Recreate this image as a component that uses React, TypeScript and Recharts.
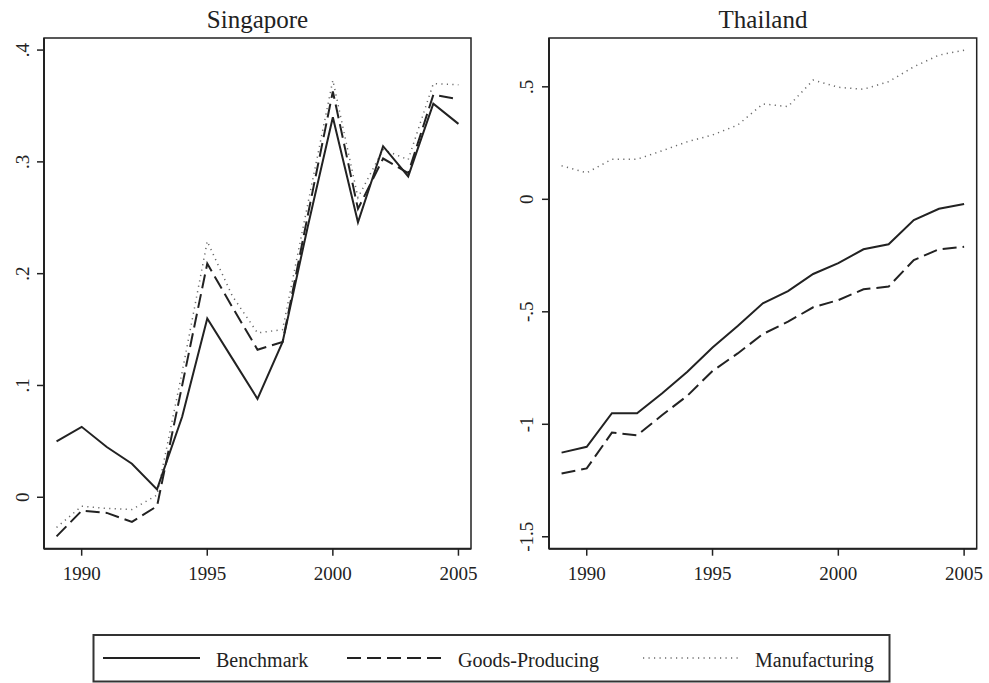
import React from "react";
import { LineChart, Line, XAxis, YAxis, ReferenceArea } from "recharts";

const years = [1989, 1990, 1991, 1992, 1993, 1994, 1995, 1996, 1997, 1998, 1999, 2000, 2001, 2002, 2003, 2004, 2005];

const sgBenchmark = [0.050, 0.063, 0.045, 0.030, 0.007, 0.072, 0.160, 0.124, 0.088, 0.139, 0.242, 0.340, 0.246, 0.314, 0.287, 0.352, 0.334];
const sgGoods = [-0.035, -0.012, -0.014, -0.022, -0.008, 0.100, 0.209, 0.170, 0.132, 0.139, 0.252, 0.363, 0.258, 0.303, 0.290, 0.360, 0.356];
const sgManuf = [-0.027, -0.008, -0.010, -0.011, 0.002, 0.112, 0.229, 0.180, 0.147, 0.150, 0.262, 0.373, 0.268, 0.311, 0.302, 0.370, 0.369];

const thBenchmark = [-1.126, -1.100, -0.951, -0.951, -0.862, -0.766, -0.659, -0.563, -0.462, -0.408, -0.332, -0.284, -0.222, -0.200, -0.092, -0.042, -0.021];
const thGoods = [-1.219, -1.196, -1.037, -1.049, -0.959, -0.873, -0.763, -0.685, -0.599, -0.544, -0.480, -0.448, -0.400, -0.388, -0.270, -0.222, -0.211];
const thManuf = [0.149, 0.118, 0.178, 0.178, 0.216, 0.256, 0.286, 0.330, 0.424, 0.412, 0.530, 0.498, 0.489, 0.523, 0.589, 0.641, 0.663];

const xTicks = [1990, 1995, 2000, 2005];
const sgYTicks = [0, 0.1, 0.2, 0.3, 0.4];
const sgYLabels = ["0", ".1", ".2", ".3", ".4"];
const thYTicks = [-1.5, -1, -0.5, 0, 0.5];
const thYLabels = ["-1.5", "-1", "-.5", "0", ".5"];

const seriesNames = ["Benchmark", "Goods-Producing", "Manufacturing"];

const sgData = years.map((y, i) => ({ year: y, b: sgBenchmark[i], g: sgGoods[i], m: sgManuf[i] }));
const thData = years.map((y, i) => ({ year: y, b: thBenchmark[i], g: thGoods[i], m: thManuf[i] }));

const FONT = "Liberation Serif";
const TS: React.CSSProperties = { fontFamily: FONT };
const INK = "#222";
const DASH = "14 6";
const DOT = "1.2 4.3";
const DOTCOL = "#6a6a6a";

function makeYTick(ticks: number[], labels: string[]) {
  return (props: any) => {
    const { x, y, payload } = props;
    const idx = ticks.findIndex((t) => Math.abs(t - payload.value) < 1e-9);
    const label = idx >= 0 ? labels[idx] : String(payload.value);
    return (
      <text
        x={x}
        y={y}
        dy="0.35em"
        textAnchor="middle"
        transform={`rotate(-90, ${x}, ${y})`}
        style={TS}
        fontSize={19}
        fill={INK}
      >
        {label}
      </text>
    );
  };
}

function XTick(props: any) {
  const { x, y, payload } = props;
  return (
    <text x={x} y={y} dy="0.71em" textAnchor="middle" style={TS} fontSize={19} fill={INK}>
      {payload.value}
    </text>
  );
}

type PanelProps = {
  data: any[];
  left: number;
  width: number;
  rightMargin: number;
  domain: [number, number];
  ticks: number[];
  labels: string[];
  tickMargin: number;
};

function Panel({ data, left, width, rightMargin, domain, ticks, labels, tickMargin }: PanelProps) {
  return (
    <div style={{ position: "absolute", left, top: 0 }}>
      <LineChart
        width={width}
        height={600}
        data={data}
        margin={{ top: 38, right: rightMargin, bottom: 11.3, left: 0 }}
      >
        <XAxis
          dataKey="year"
          type="number"
          domain={[1988.5, 2005.5]}
          ticks={xTicks}
          allowDataOverflow
          height={40}
          tickSize={7}
          tickMargin={11}
          axisLine={{ stroke: INK, strokeWidth: 2 }}
          tickLine={{ stroke: INK, strokeWidth: 1.5 }}
          tick={<XTick />}
        />
        <YAxis
          type="number"
          domain={domain}
          ticks={ticks}
          allowDataOverflow
          width={44}
          tickSize={7}
          tickMargin={tickMargin}
          axisLine={{ stroke: INK, strokeWidth: 2 }}
          tickLine={{ stroke: INK, strokeWidth: 1.5 }}
          tick={makeYTick(ticks, labels)}
        />
        <ReferenceArea
          x1={1988.5}
          x2={2005.5}
          y1={domain[0]}
          y2={domain[1]}
          fill="none"
          stroke={INK}
          strokeWidth={1.5}
          ifOverflow="visible"
        />
        <Line type="linear" dataKey="m" stroke={DOTCOL} strokeWidth={1.5} strokeDasharray={DOT} dot={false} isAnimationActive={false} />
        <Line type="linear" dataKey="g" stroke={INK} strokeWidth={2} strokeDasharray={DASH} dot={false} isAnimationActive={false} />
        <Line type="linear" dataKey="b" stroke={INK} strokeWidth={2} dot={false} isAnimationActive={false} />
      </LineChart>
    </div>
  );
}

export default function App() {
  return (
    <div style={{ position: "absolute", left: 0, top: 0, width: 989, height: 683, background: "#fff", overflow: "hidden" }}>
      <Panel data={sgData} left={0} width={490} rightMargin={19} domain={[-0.046, 0.4108]} ticks={sgYTicks} labels={sgYLabels} tickMargin={15} />
      <Panel data={thData} left={505} width={484} rightMargin={12.3} domain={[-1.553, 0.717]} ticks={thYTicks} labels={thYLabels} tickMargin={16} />
      <svg width={989} height={683} style={{ position: "absolute", left: 0, top: 0, pointerEvents: "none" }}>
        <text x={257.5} y={28} textAnchor="middle" style={TS} fontSize={25} fill={INK}>Singapore</text>
        <text x={763} y={28} textAnchor="middle" style={TS} fontSize={25} fill={INK}>Thailand</text>
        <rect x={93.5} y={635} width={796} height={46.5} fill="none" stroke="#333" strokeWidth={2} />
        <line x1={103} y1={658} x2={200} y2={658} stroke={INK} strokeWidth={2} />
        <text x={216} y={667} style={TS} fontSize={20} fill={INK}>{seriesNames[0]}</text>
        <line x1={347} y1={658} x2={442} y2={658} stroke={INK} strokeWidth={2} strokeDasharray={DASH} />
        <text x={458} y={667} style={TS} fontSize={20} fill={INK}>{seriesNames[1]}</text>
        <line x1={643} y1={658} x2={740} y2={658} stroke={DOTCOL} strokeWidth={1.5} strokeDasharray={DOT} />
        <text x={755} y={667} style={TS} fontSize={20} fill={INK}>{seriesNames[2]}</text>
      </svg>
    </div>
  );
}
